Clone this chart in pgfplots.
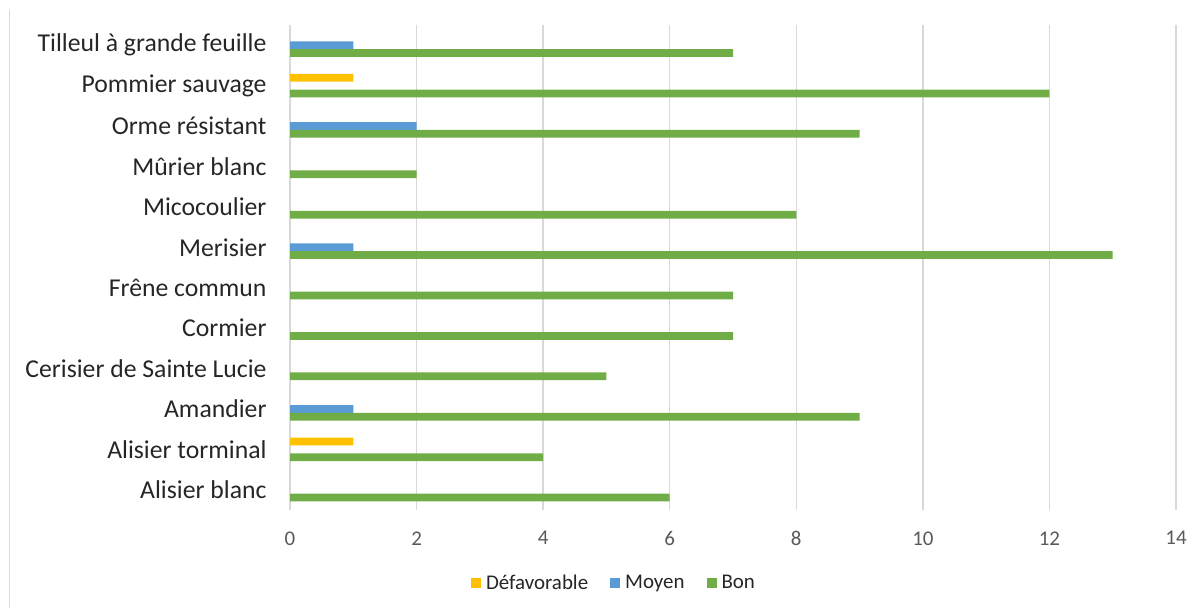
\documentclass[border=0pt]{standalone}
\usepackage{fontspec}
\setmainfont{Carlito}
\usepackage{pgfplots}
\pgfplotsset{compat=1.18}
\definecolor{cDef}{HTML}{FFC000}
\definecolor{cMoy}{HTML}{5B9BD5}
\definecolor{cBon}{HTML}{70AD47}
\definecolor{gridc}{HTML}{D9D9D9}
\definecolor{ticktext}{HTML}{595959}
\definecolor{labtext}{HTML}{262626}
\begin{document}
\begin{tikzpicture}
\useasboundingbox (0bp,0bp) rectangle (1203bp,608bp);
\draw[gridc, line width=1.8bp] (9.5bp,0bp) -- (9.5bp,598bp);
\begin{axis}[
  at={(290bp,98bp)}, anchor=south west, scale only axis,
  width=886bp, height=485bp,
  xmin=0, xmax=14, ymin=-0.5, ymax=11.5,
  xtick={0,2,...,14}, ytick={0,...,11},
  yticklabels={Alisier blanc, Alisier torminal, Amandier, Cerisier de Sainte Lucie, Cormier, Frêne commun, Merisier, Micocoulier, Mûrier blanc, Orme résistant, Pommier sauvage, Tilleul à grande feuille},
  axis line style={draw=none}, major tick length=0,
  xmajorgrids, grid style={gridc, line width=1.5bp},
  xbar, bar width=7.8bp,
  /pgf/number format/assume math mode=true,
  yticklabel style={font=\fontsize{25.8}{30}\selectfont, text=labtext, anchor=east, xshift=-20bp},
  xticklabel style={font=\fontsize{21}{24}\selectfont, text=ticktext, anchor=north, yshift=-18bp},
  legend style={at={(0.3657,-0.1505)}, anchor=center, draw=none, legend columns=3,
    font=\fontsize{21}{24}\selectfont, text=labtext,
    /tikz/every odd column/.append style={column sep=3bp},
    /tikz/every even column/.append style={column sep=20bp}},
  legend image code/.code={\fill[#1] (0bp,-5bp) rectangle (10bp,5bp);},
]
\addplot[fill=cDef, draw=none, bar shift=7.8bp] coordinates {(1,10) (1,1)};
\addlegendentry{Défavorable}
\addplot[fill=cMoy, draw=none, bar shift=0bp] coordinates {(1,11) (2,9) (1,6) (1,2)};
\addlegendentry{Moyen}
\addplot[fill=cBon, draw=none, bar shift=-7.8bp] coordinates {
(6,0) (4,1) (9,2) (5,3) (7,4) (7,5) (13,6) (8,7) (2,8) (9,9) (12,10) (7,11)};
\addlegendentry{Bon}
\end{axis}
\end{tikzpicture}
\end{document}
